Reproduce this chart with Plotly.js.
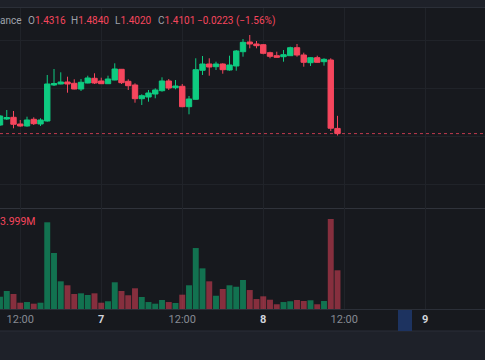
<!DOCTYPE html>
<html><head><meta charset="utf-8">
<script src="https://cdn.plot.ly/plotly-3.0.1.min.js"></script>
<style>html,body{margin:0;padding:0;background:#17191e;overflow:hidden}#chart{width:485px;height:360px}</style>
</head><body><div id="chart"></div>
<script>
const times = [
 '2025-03-06 09:00','2025-03-06 10:00','2025-03-06 11:00','2025-03-06 12:00','2025-03-06 13:00',
 '2025-03-06 14:00','2025-03-06 15:00','2025-03-06 16:00','2025-03-06 17:00','2025-03-06 18:00',
 '2025-03-06 19:00','2025-03-06 20:00','2025-03-06 21:00','2025-03-06 22:00','2025-03-06 23:00',
 '2025-03-07 00:00','2025-03-07 01:00','2025-03-07 02:00','2025-03-07 03:00','2025-03-07 04:00',
 '2025-03-07 05:00','2025-03-07 06:00','2025-03-07 07:00','2025-03-07 08:00','2025-03-07 09:00',
 '2025-03-07 10:00','2025-03-07 11:00','2025-03-07 12:00','2025-03-07 13:00','2025-03-07 14:00',
 '2025-03-07 15:00','2025-03-07 16:00','2025-03-07 17:00','2025-03-07 18:00','2025-03-07 19:00',
 '2025-03-07 20:00','2025-03-07 21:00','2025-03-07 22:00','2025-03-07 23:00','2025-03-08 00:00',
 '2025-03-08 01:00','2025-03-08 02:00','2025-03-08 03:00','2025-03-08 04:00','2025-03-08 05:00',
 '2025-03-08 06:00','2025-03-08 07:00','2025-03-08 08:00','2025-03-08 09:00','2025-03-08 10:00',
 '2025-03-08 11:00'];
const open = [1.4458,1.4708,1.4779,1.4500,1.4417,1.4696,1.4500,1.4625,1.6125,1.6167,
 1.6250,1.6196,1.5958,1.6208,1.6404,1.6292,1.6179,1.6333,1.6779,1.6279,
 1.6125,1.5554,1.5625,1.5750,1.5888,1.6292,1.6013,1.6071,1.5221,1.5529,
 1.6738,1.7000,1.6888,1.7000,1.6750,1.6917,1.7513,1.7917,1.7833,1.7804,
 1.7471,1.7346,1.7304,1.7346,1.7679,1.7375,1.7054,1.7263,1.7096,1.7167,
 1.4316];
const high = [1.4875,1.5083,1.5042,1.4667,1.4804,1.4779,1.4738,1.6542,1.6792,1.6654,
 1.6471,1.6363,1.6375,1.6513,1.6613,1.6429,1.6513,1.7029,1.6792,1.6363,
 1.6196,1.5738,1.5917,1.5988,1.6446,1.6375,1.6333,1.6167,1.5667,1.7238,
 1.7333,1.7238,1.7096,1.7029,1.7346,1.7583,1.8042,1.8208,1.7958,1.7833,
 1.7513,1.7513,1.7583,1.7721,1.7833,1.7471,1.7280,1.7346,1.7238,1.7238,
 1.4840];
const low = [1.4417,1.4667,1.4321,1.4388,1.4388,1.4458,1.4417,1.4600,1.6083,1.6154,
 1.5804,1.5945,1.5875,1.6196,1.6167,1.6167,1.6167,1.6320,1.6167,1.5917,
 1.5388,1.5292,1.5429,1.5571,1.5846,1.5917,1.5946,1.5200,1.4904,1.5510,
 1.6542,1.6513,1.6750,1.6596,1.6721,1.6721,1.7304,1.7654,1.7654,1.7404,
 1.7238,1.7270,1.7096,1.7340,1.7304,1.6888,1.6917,1.7060,1.6929,1.4208,
 1.4020];
const close = [1.4833,1.4771,1.4488,1.4417,1.4667,1.4513,1.4667,1.6167,1.6188,1.6250,
 1.6167,1.5958,1.6238,1.6417,1.6208,1.6179,1.6375,1.6792,1.6221,1.6096,
 1.5554,1.5679,1.5792,1.5917,1.6292,1.6000,1.6083,1.5221,1.5542,1.6763,
 1.7000,1.6875,1.7000,1.6763,1.6958,1.7542,1.7904,1.7833,1.7763,1.7446,
 1.7321,1.7279,1.7388,1.7679,1.7375,1.7071,1.7263,1.7071,1.7196,1.4324,
 1.4101];
const volumeM = [1.27,1.86,1.55,0.65,0.72,0.55,0.65,8.96,5.79,2.86,
 2.45,1.55,1.62,1.45,1.62,0.65,0.80,2.76,1.86,1.42,
 2.14,1.24,0.72,0.55,0.93,0.72,0.62,1.48,2.45,6.30,
 4.20,2.86,1.37,2.07,2.45,2.30,3.00,1.96,1.03,1.31,
 0.96,0.49,0.72,0.80,0.93,0.83,0.90,0.49,0.83,9.30,
 3.999];
const tickVals = ['2025-03-06 12:00','2025-03-07 00:00','2025-03-07 12:00','2025-03-08 00:00','2025-03-08 12:00','2025-03-09 00:00'];
const tickText = ['12:00','<span style="color:#d1d4dc"><b>7</b></span>','12:00','<span style="color:#d1d4dc"><b>8</b></span>','12:00','<span style="color:#d1d4dc"><b>9</b></span>'];
const priceGrid = [1.2,1.4,1.6,1.8];

const UP = '#0ecb81', DOWN = '#f6465d';
const UPV = 'rgba(14,203,129,0.5)', DOWNV = 'rgba(246,70,93,0.5)';
const BG = '#17191e', GRID = '#202329', SEP = '#30333b';
const FONT = 'Roboto, "Open Sans", sans-serif';
const W = 485, H = 360;
const py = p => 1 - p / H;
const px = p => p / W;

const n = close.length;
const volColors = close.map((c, i) => c >= open[i] ? UPV : DOWNV);

const candles = {
  type: 'candlestick', x: times, open: open, high: high, low: low, close: close,
  xaxis: 'x', yaxis: 'y',
  increasing: {line: {color: UP, width: 1}, fillcolor: UP},
  decreasing: {line: {color: DOWN, width: 1}, fillcolor: DOWN},
  whiskerwidth: 0, hoverinfo: 'skip'
};
const vols = {
  type: 'bar', x: times, y: volumeM, xaxis: 'x2', yaxis: 'y2',
  marker: {color: volColors, line: {width: 0}}, hoverinfo: 'skip'
};

const lastO = open[n-1], lastH = high[n-1], lastL = low[n-1], lastC = close[n-1];
const chg = lastC - close[n-2];
const pct = chg / close[n-2] * 100;
const fmt = v => v.toFixed(4);
const red = s => '<span style="color:' + DOWN + '">' + s + '</span>';
const GRAY = '#9ea2ab';

function ann(text, xPix, yPix, color, size) {
  return {text: text, xref: 'paper', yref: 'paper', x: px(xPix), y: py(yPix),
    xanchor: 'left', yanchor: 'middle', showarrow: false, borderpad: 0,
    font: {family: FONT, size: size || 10, color: color || GRAY}};
}

const annotations = [
  ann('ance', -1, 20.5),
  ann('O' + red(fmt(lastO)), 26.5, 20.5),
  ann('H' + red(fmt(lastH)), 69.5, 20.5),
  ann('L' + red(fmt(lastL)), 113.5, 20.5),
  ann('C' + red(fmt(lastC)), 156.5, 20.5),
  ann(red('\u2212' + Math.abs(chg).toFixed(4) + ' (\u2212' + Math.abs(pct).toFixed(2) + '%)'), 195.5, 20.5),
  ann(volumeM[n-1].toFixed(3) + 'M', -1.5, 221.5, DOWN, 10.5)
];

const shapes = [
  {type: 'rect', xref: 'paper', yref: 'paper', x0: 0, x1: 1, y0: py(7), y1: 1, fillcolor: '#1e2129', line: {width: 0}, layer: 'below'},
  {type: 'line', xref: 'paper', yref: 'paper', x0: 0, x1: 1, y0: py(7.5), y1: py(7.5), line: {color: '#2b2f38', width: 1}},
  {type: 'rect', xref: 'paper', yref: 'paper', x0: 0, x1: 1, y0: 0, y1: py(331), fillcolor: '#1e2129', line: {width: 0}, layer: 'below'},
  {type: 'line', xref: 'paper', yref: 'paper', x0: 0, x1: 1, y0: py(331), y1: py(331), line: {color: '#2b2f38', width: 1}},
  {type: 'rect', xref: 'paper', yref: 'paper', x0: px(398), x1: px(412), y0: py(331), y1: py(310), fillcolor: '#1d3360', line: {width: 0}},
  {type: 'line', xref: 'paper', yref: 'y', x0: 0, x1: 1, y0: lastC, y1: lastC, line: {color: 'rgba(246,70,93,0.75)', width: 1, dash: 'dot'}}
];

const layout = {
  width: W, height: H, margin: {l: 0, r: 0, t: 0, b: 0},
  paper_bgcolor: BG, plot_bgcolor: 'rgba(0,0,0,0)',
  showlegend: false, hovermode: false, dragmode: false,
  boxgap: 0.2, boxgroupgap: 0, bargap: 0.12,
  font: {family: FONT, color: GRAY},
  xaxis: {type: 'date', anchor: 'y', range: ['2025-03-06 09:00', '2025-03-09 08:51:07'],
    tickvals: tickVals, showticklabels: false, ticks: '', showgrid: true, gridcolor: GRID, gridwidth: 1,
    showline: true, linecolor: SEP, linewidth: 1, zeroline: false, rangeslider: {visible: false}, fixedrange: true},
  xaxis2: {type: 'date', anchor: 'y2', matches: 'x',
    tickvals: tickVals, ticktext: tickText, ticks: '', showgrid: true, gridcolor: GRID, gridwidth: 1,
    showline: true, linecolor: '#2b2f38', linewidth: 1, zeroline: false,
    tickfont: {family: FONT, size: 11, color: '#868a93'}, fixedrange: true},
  yaxis: {domain: [py(208), py(8)], range: [1.1, 1.1 + 200 / 240], tickvals: priceGrid,
    showticklabels: false, ticks: '', showgrid: true, gridcolor: GRID, zeroline: false, fixedrange: true},
  yaxis2: {domain: [py(309), py(208)], range: [0, 101 * 3.999 / 38.7],
    showticklabels: false, ticks: '', showgrid: false, zeroline: false, fixedrange: true},
  shapes: shapes, annotations: annotations
};

Plotly.newPlot('chart', [candles, vols], layout, {staticPlot: true, displayModeBar: false});
</script></body></html>
